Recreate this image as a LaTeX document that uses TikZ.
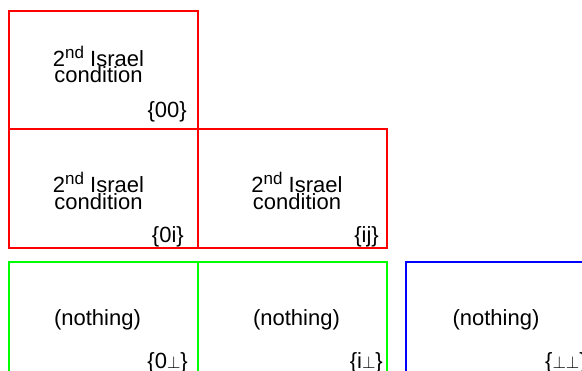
\documentclass[tikz,border=0pt]{standalone}
\usepackage{fontspec}
\setmainfont{Liberation Sans}
\newcommand{\nd}{\raisebox{8.5pt}{\fontsize{17}{17}\selectfont nd}}
\newcommand{\pp}{{\fontsize{17}{17}\selectfont$\perp$}}
\begin{document}
\begin{tikzpicture}[x=1pt,y=-1pt,
  cell/.style={draw=#1, line width=2pt, minimum width=189pt, minimum height=118.5pt, inner sep=0pt},
  txt/.style={anchor=base, inner sep=0pt, font=\fontsize{22}{22}\selectfont},
  lab/.style={anchor=base east, inner sep=0pt, font=\fontsize{22}{22}\selectfont}]
\useasboundingbox (0,0) rectangle (582,371);
\clip (0,0) rectangle (582,371);
% boxes
\node[cell=red] (c00) at (103.5,70.25) {};
\node[cell=red] (c0i) at (103.5,188.75) {};
\node[cell=red] (cij) at (292.5,188.75) {};
\node[cell=green] (c0p) at (103.5,321.25) {};
\node[cell=green] (cip) at (292.5,321.25) {};
\node[cell=blue] (cpp) at (500.5,321.25) {};
% texts
\node[txt] (t00a) at (98.5,67) {2\nd{} Israel};
\node[txt] (t00b) at (98.5,83) {condition};
\node[lab] (l00) at (187,118) {\{00\}};
\node[txt] (t0ia) at (98.5,193) {2\nd{} Israel};
\node[txt] (t0ib) at (98.5,210) {condition};
\node[lab] (l0i) at (184,243) {\{0i\}};
\node[txt] (tija) at (297,193) {2\nd{} Israel};
\node[txt] (tijb) at (297,210) {condition};
\node[lab] (lij) at (379,243) {\{ij\}};
\node[txt] (t0p) at (97.5,326) {(nothing)};
\node[lab] (l0p) at (188,369) {\{0\pp\}};
\node[txt] (tip) at (296.5,326) {(nothing)};
\node[lab] (lip) at (383,369) {\{i\pp\}};
\node[txt] (tpp) at (496,326) {(nothing)};
\node[anchor=base west, inner sep=0pt, font=\fontsize{22}{22}\selectfont] (lpp) at (545,369) {\{\pp\pp\}};
\end{tikzpicture}
\end{document}
